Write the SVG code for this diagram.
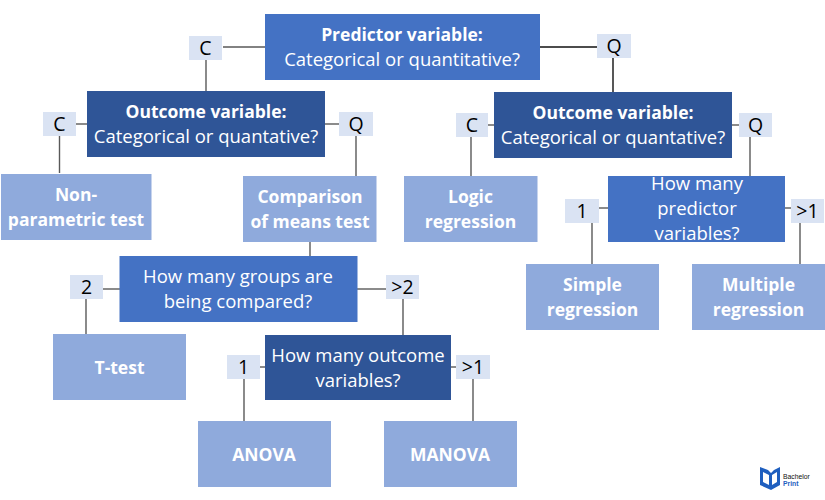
<svg xmlns="http://www.w3.org/2000/svg" width="825" height="500" viewBox="0 0 825 500">
<style>
text{font-family:"Open Sans","Noto Sans","Liberation Sans",sans-serif;text-anchor:middle}
.dark{fill:#2f5597}.mid{fill:#4472c4}.light{fill:#8faadc}.tag{fill:#dae3f3}
.t{fill:#fff;font-size:18.500px}.b{fill:#fff;font-size:17.500px;font-weight:700}
.k{fill:#000;font-size:19.500px}
.c line{stroke:#595959;stroke-width:1.400}
</style>
<rect width="825" height="500" fill="#fff"/>
<g id="connectors" class="c">
<line x1="223" y1="47" x2="265" y2="47"/><line x1="206" y1="60" x2="206" y2="91"/>
<line x1="539" y1="47" x2="597" y2="47" style="stroke:#111"/><line x1="613" y1="58" x2="613" y2="92" style="stroke:#111"/>
<line x1="76" y1="124" x2="87" y2="124"/><line x1="325" y1="124" x2="339" y2="124"/>
<line x1="59.500" y1="136" x2="59.500" y2="173"/><line x1="356" y1="136" x2="356" y2="176"/>
<line x1="488" y1="125" x2="494" y2="125"/><line x1="732" y1="125" x2="739" y2="125"/>
<line x1="471" y1="137" x2="471" y2="176"/><line x1="750" y1="137" x2="750" y2="178"/>
<line x1="599" y1="208" x2="608" y2="208"/><line x1="785" y1="208" x2="791" y2="208"/>
<line x1="592" y1="223" x2="592" y2="264"/><line x1="800" y1="223" x2="800" y2="264"/>
<line x1="310" y1="241" x2="310" y2="256"/>
<line x1="103" y1="289" x2="120" y2="289"/><line x1="357" y1="289" x2="386" y2="289"/>
<line x1="86" y1="299" x2="86" y2="335"/><line x1="403" y1="299" x2="403" y2="335"/>
<line x1="260" y1="367" x2="265" y2="367"/><line x1="451" y1="367" x2="456" y2="367"/>
<line x1="244" y1="379" x2="244" y2="421"/><line x1="473" y1="379" x2="473" y2="421"/>
</g>
<g id="predictor"><rect class="mid" x="265" y="14" width="275" height="66"/><text class="b" x="402" y="41">Predictor variable:</text><text class="t" x="402" y="66">Categorical or quantitative?</text></g>
<g id="outcome-left"><rect class="dark" x="87" y="91" width="238" height="66"/><text class="b" x="206" y="118">Outcome variable:</text><text class="t" x="206" y="143">Categorical or quantative?</text></g>
<g id="outcome-right"><rect class="dark" x="494" y="92" width="238" height="66"/><text class="b" x="613" y="119">Outcome variable:</text><text class="t" x="613" y="144">Categorical or quantative?</text></g>
<g id="tag-c1"><rect class="tag" x="189" y="36" width="33" height="24"/><text class="k" x="205.500" y="55">C</text></g>
<g id="tag-q1"><rect class="tag" x="597" y="34" width="34" height="24"/><text class="k" x="614" y="53">Q</text></g>
<g id="tag-c2"><rect class="tag" x="43" y="112" width="33" height="24"/><text class="k" x="59.500" y="131">C</text></g>
<g id="tag-q2"><rect class="tag" x="339" y="112" width="34" height="24"/><text class="k" x="356" y="131">Q</text></g>
<g id="tag-c3"><rect class="tag" x="456" y="113" width="32" height="24"/><text class="k" x="472" y="132">C</text></g>
<g id="tag-q3"><rect class="tag" x="739" y="113" width="33" height="24"/><text class="k" x="755.500" y="132">Q</text></g>
<g id="nonparam"><rect class="light" x="1" y="174" width="150.500" height="66"/><text class="b" x="76" y="201">Non-</text><text class="b" x="76" y="226">parametric test</text></g>
<g id="comparison"><rect class="light" x="243" y="176" width="133.500" height="66"/><text class="b" x="310" y="203">Comparison</text><text class="b" x="310" y="228">of means test</text></g>
<g id="logic"><rect class="light" x="404" y="176" width="133.500" height="66"/><text class="b" x="470.500" y="203">Logic</text><text class="b" x="470.500" y="228">regression</text></g>
<g id="predictors-q"><rect class="mid" x="608" y="176" width="177" height="66"/><text class="t" x="697" y="190">How many</text><text class="t" x="697" y="215">predictor</text><text class="t" x="697" y="240">variables?</text></g>
<g id="tag-1a"><rect class="tag" x="565" y="199" width="34" height="24"/><text class="k" x="582" y="218">1</text></g>
<g id="tag-g1a"><rect class="tag" x="791" y="199" width="33" height="24"/><text class="k" x="807.500" y="218">&gt;1</text></g>
<g id="simple"><rect class="light" x="526" y="264" width="133" height="66"/><text class="b" x="592.500" y="291">Simple</text><text class="b" x="592.500" y="316">regression</text></g>
<g id="multiple"><rect class="light" x="692" y="264" width="133" height="66"/><text class="b" x="758.500" y="291">Multiple</text><text class="b" x="758.500" y="316">regression</text></g>
<g id="groups-q"><rect class="mid" x="119.500" y="256" width="238" height="66"/><text class="t" x="238" y="283">How many groups are</text><text class="t" x="238" y="308">being compared?</text></g>
<g id="tag-2"><rect class="tag" x="70" y="275" width="33" height="24"/><text class="k" x="86.500" y="294">2</text></g>
<g id="tag-g2"><rect class="tag" x="386" y="275" width="33" height="24"/><text class="k" x="402.500" y="294">&gt;2</text></g>
<g id="ttest"><rect class="light" x="53" y="334" width="133" height="66"/><text class="b" x="119.500" y="374">T-test</text></g>
<g id="outcomes-q"><rect class="dark" x="265" y="335" width="186" height="65"/><text class="t" x="358" y="362">How many outcome</text><text class="t" x="358" y="387">variables?</text></g>
<g id="tag-1b"><rect class="tag" x="227" y="355" width="33" height="24"/><text class="k" x="243.500" y="374">1</text></g>
<g id="tag-g1b"><rect class="tag" x="456" y="355" width="34" height="24"/><text class="k" x="473" y="374">&gt;1</text></g>
<g id="anova"><rect class="light" x="198" y="421" width="133" height="66"/><text class="b" x="264" y="461">ANOVA</text></g>
<g id="manova"><rect class="light" x="384" y="421" width="133" height="66"/><text class="b" x="450" y="461">MANOVA</text></g>
<g id="logo">
<path d="M760 467l8 3 3 3 3-3 6-3v18l-9 5-11-5z" fill="#1f5fbf"/>
<path d="M763 472l6 3v10l-6-3zM777 472l-5 3v10l5-3z" fill="#fff"/>
<text x="783" y="478.500" style="text-anchor:start;font-size:6.800px;font-family:'Liberation Sans',sans-serif;fill:#111">Bachelor</text>
<text x="783" y="485.500" style="text-anchor:start;font-size:6.800px;font-weight:700;font-family:'Liberation Sans',sans-serif;fill:#1f5fbf">Print</text>
</g>
</svg>
